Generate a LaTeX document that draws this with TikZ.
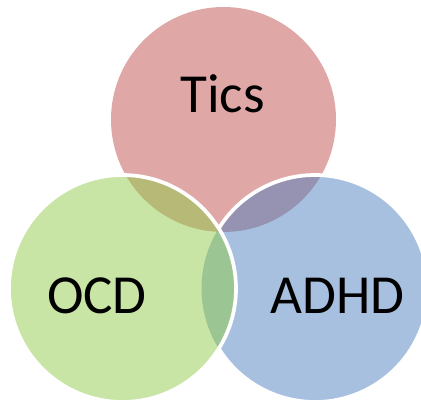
\documentclass[tikz,border=0pt]{standalone}
\usepackage{fontspec}
\setmainfont{Carlito}
\definecolor{ticsred}{RGB}{192,80,77}
\definecolor{adhdblue}{RGB}{79,129,191}
\definecolor{ocdgreen}{RGB}{145,203,75}
\begin{document}
\begin{tikzpicture}[x=0.75pt,y=0.75pt,yscale=-1,
  setfill/.style={fill opacity=0.5},
  rim/.style={draw=white,line width=2.8pt},
  setlabel/.style={inner sep=0pt,anchor=base,font=\fontsize{41.3}{48}\selectfont}]
\useasboundingbox (0,0) rectangle (421,404);
\clip (0,0) rectangle (421,404);

\coordinate (tics-c) at (223.5,119.5);
\coordinate (ocd-c) at (122.5,288.5);
\coordinate (adhd-c) at (315,288.5);

%Shape: Circle [Tics]
\fill [ticsred,setfill] (tics-c) circle (112.5);
%Shape: Circle [ADHD]
\fill [adhdblue,setfill] (adhd-c) circle (113.5);
%rim of ADHD, only the part left uncovered by OCD
\draw [rim] ([shift={(148:113.5)}]adhd-c) arc [start angle=148, end angle=-148, radius=113.5];
%Shape: Circle [OCD]
\fill [ocdgreen,setfill] (ocd-c) circle (113.5);
\draw [rim] (ocd-c) circle (113.5);

% Text Node
\node [setlabel] (tics) at (222.5,112.5) {Tics};
% Text Node
\node [setlabel] (ocd) at (97,313.5) {OCD};
% Text Node
\node [setlabel] (adhd) at (337.5,313.5) {ADHD};

\end{tikzpicture}
\end{document}
